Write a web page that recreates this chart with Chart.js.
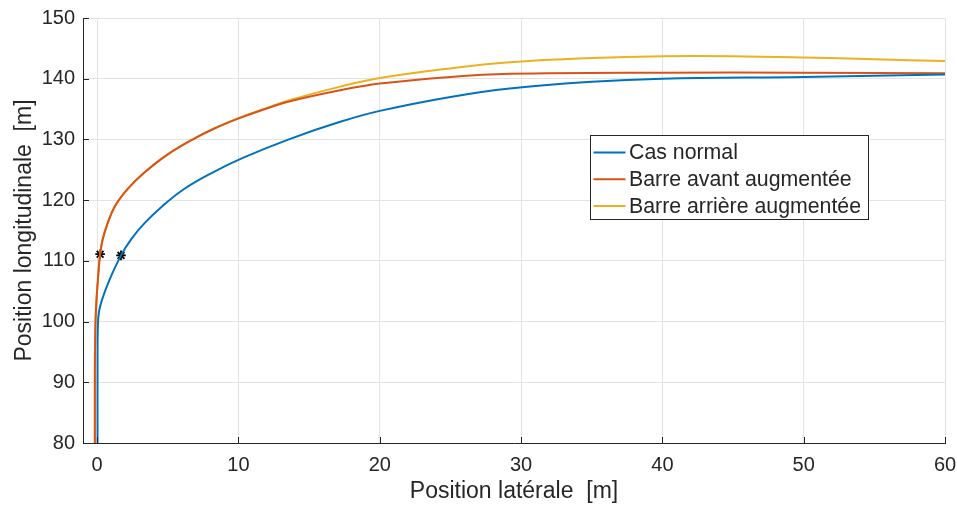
<!DOCTYPE html>
<html>
<head>
<meta charset="utf-8">
<script src="https://cdn.jsdelivr.net/npm/chart.js@4/dist/chart.umd.min.js"></script>
<style>
  html, body { margin: 0; padding: 0; background: #ffffff; }
  #wrap { width: 957px; height: 506px; position: relative; }
</style>
</head>
<body>
<div id="wrap"><canvas id="c" width="957" height="506"></canvas></div>
<script>
// Trajectories: lateral position (x) vs longitudinal position (y), in metres
const normalX = [0.03, 0.03, 0.05, 0.13, 0.36, 0.86, 1.69, 2.39, 3.37, 4.61, 6.13, 8.13, 10.35, 13.66, 17.2, 20, 25, 29.2, 35, 40, 50, 60];
const normalY = [80, 94, 99, 101.6, 103.7, 106.8, 110.9, 113.5, 116.25, 119.0, 121.8, 124.5, 127.0, 130.1, 132.9, 134.7, 137.0, 138.4, 139.5, 140.0, 140.3, 140.7];

const avantX = [-0.16, -0.16, -0.14, -0.1, -0.02, 0.09, 0.21, 0.39, 0.75, 1.26, 2.15, 3.32, 4.85, 6.84, 8.3, 10.07, 12, 13.66, 17.2, 20, 25, 29.2, 40, 50, 60];
const avantY = [80, 92, 97, 101, 104.5, 108.0, 111.1, 113.5, 116.25, 119.0, 121.8, 124.5, 127.3, 130.1, 131.8, 133.5, 135.1, 136.3, 138.1, 139.2, 140.3, 140.8, 141.0, 141.0, 140.9];

const arriereX = [-0.16, -0.16, -0.14, -0.1, -0.02, 0.09, 0.21, 0.39, 0.75, 1.26, 2.15, 3.32, 4.85, 6.84, 8.3, 10.07, 12, 13.66, 17.2, 20, 25, 29.2, 35, 40, 45, 50, 55, 60];
const arriereY = [80, 92, 97, 101, 104.5, 108.0, 111.1, 113.5, 116.25, 119.0, 121.8, 124.5, 127.3, 130.1, 131.8, 133.6, 135.2, 136.5, 138.7, 140.1, 141.7, 142.7, 143.4, 143.7, 143.7, 143.5, 143.2, 142.9];

// Marked points on the trajectories
const markX = [0.21, 1.69];
const markY = [111.1, 110.9];

const seriesNames = ['Cas normal', 'Barre avant augmentée', 'Barre arrière augmentée'];
const seriesColors = ['#0072BD', '#D95319', '#EDB120'];

const xTicks = [0, 10, 20, 30, 40, 50, 60];
const yTicks = [80, 90, 100, 110, 120, 130, 140, 150];

const toPoints = (xs, ys) => xs.map((x, i) => ({ x: x, y: ys[i] }));

const FONT = "'Liberation Sans', Arial, Helvetica, sans-serif";
const TEXT = '#262626';

// Inward tick marks on the left and bottom axes
const inwardTicks = {
  id: 'inwardTicks',
  afterDatasetsDraw(chart) {
    const { ctx, chartArea: a, scales } = chart;
    ctx.save();
    ctx.strokeStyle = '#262626';
    ctx.lineWidth = 1;
    ctx.beginPath();
    xTicks.forEach(v => {
      const px = Math.round(scales.x.getPixelForValue(v)) + 0.5;
      ctx.moveTo(px, a.bottom);
      ctx.lineTo(px, a.bottom - 6);
    });
    yTicks.forEach(v => {
      const py = Math.round(scales.y.getPixelForValue(v)) + 0.5;
      ctx.moveTo(a.left, py);
      ctx.lineTo(a.left + 6, py);
    });
    ctx.stroke();
    ctx.restore();
  }
};

// Boxed legend drawn inside the plot area
const boxLegend = {
  id: 'boxLegend',
  afterDraw(chart) {
    const { ctx, chartArea: a } = chart;
    const left = a.left + 507.5, top = a.top + 117.5, w = 278, h = 84;
    ctx.save();
    ctx.fillStyle = '#ffffff';
    ctx.fillRect(left, top, w, h);
    ctx.strokeStyle = '#262626';
    ctx.lineWidth = 1;
    ctx.strokeRect(left, top, w, h);
    ctx.font = '21.3px ' + FONT;
    ctx.textBaseline = 'middle';
    ctx.fillStyle = TEXT;
    seriesNames.forEach((name, i) => {
      const cy = top + 17 + i * 26.7;
      ctx.strokeStyle = seriesColors[i];
      ctx.lineWidth = 2;
      ctx.beginPath();
      ctx.moveTo(left + 3, cy);
      ctx.lineTo(left + 35, cy);
      ctx.stroke();
      ctx.fillText(name, left + 38.5, cy + 1);
    });
    ctx.restore();
  }
};

const lineStyle = (i) => ({
  borderColor: seriesColors[i],
  backgroundColor: seriesColors[i],
  borderWidth: 2,
  pointRadius: 0,
  showLine: true,
  tension: 0.4,
  fill: false
});

// Keep the plot frame fixed: no extra room reserved for overhanging tick labels
const fixX = s => { s.height = 63; s.paddingLeft = 0; s.paddingRight = 0; };
const fixY = s => { s.width = 83; s.paddingTop = 0; s.paddingBottom = 0; };

new Chart(document.getElementById('c'), {
  type: 'scatter',
  data: {
    datasets: [
      Object.assign({ label: seriesNames[0], data: toPoints(normalX, normalY) }, lineStyle(0)),
      Object.assign({ label: seriesNames[1], data: toPoints(avantX, avantY) }, lineStyle(1)),
      Object.assign({ label: seriesNames[2], data: toPoints(arriereX, arriereY) }, lineStyle(2)),
      {
        label: 'marks',
        data: toPoints(markX, markY),
        showLine: false,
        pointStyle: 'star',
        pointRadius: 4.8,
        borderColor: '#000000',
        backgroundColor: '#000000',
        borderWidth: 1.8
      }
    ]
  },
  options: {
    responsive: false,
    animation: false,
    devicePixelRatio: 1,
    layout: { padding: { top: 18, right: 12, left: 0, bottom: 0 } },
    plugins: {
      legend: { display: false },
      tooltip: { enabled: false }
    },
    scales: {
      x: {
        type: 'linear',
        min: -1,
        max: 60,
        afterBuildTicks: s => { s.ticks = xTicks.map(v => ({ value: v })); },
        afterFit: fixX,
        grid: { color: '#e3e3e3', lineWidth: 1, drawTicks: false },
        border: { display: true, color: '#262626', width: 1 },
        ticks: { color: TEXT, font: { family: FONT, size: 20 }, padding: 10, maxRotation: 0 },
        title: { display: true, text: 'Position latérale  [m]', color: TEXT, font: { family: FONT, size: 23 }, padding: { top: 0, bottom: 1 } }
      },
      y: {
        type: 'linear',
        min: 80,
        max: 150,
        afterBuildTicks: s => { s.ticks = yTicks.map(v => ({ value: v })); },
        afterFit: fixY,
        grid: { color: '#e3e3e3', lineWidth: 1, drawTicks: false },
        border: { display: true, color: '#262626', width: 1 },
        ticks: { color: TEXT, font: { family: FONT, size: 20 }, padding: 8 },
        title: { display: true, text: 'Position longitudinale  [m]', color: TEXT, font: { family: FONT, size: 23 }, padding: { top: 11, bottom: 0 } }
      }
    }
  },
  plugins: [inwardTicks, boxLegend]
});
</script>
</body>
</html>
